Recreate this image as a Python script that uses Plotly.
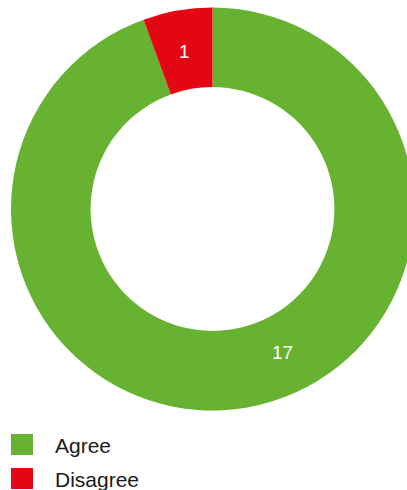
import math
import plotly.graph_objects as go

# Survey responses
categories = ["Agree", "Disagree"]
counts = [17, 1]
colors = ["#67B230", "#E30613"]

W, H = 425, 490
FONT = "Liberation Sans, Arial, Helvetica, sans-serif"

# Ring geometry in pixels
cx, cy = 212.5, 209.0
r_outer = 201.5
hole = 0.605

fig = go.Figure()
fig.add_trace(go.Pie(
    labels=categories,
    values=counts,
    marker=dict(colors=colors, line=dict(width=0)),
    hole=hole,
    sort=False,
    direction="clockwise",
    rotation=0,
    textinfo="none",
    domain=dict(x=[(cx - r_outer) / W, (cx + r_outer) / W],
                y=[1 - (cy + r_outer) / H, 1 - (cy - r_outer) / H]),
    showlegend=False,
    hoverinfo="label+value",
))

# Value labels placed on the ring (angle measured clockwise from 12 o'clock)
label_angles = [154, 350]
label_radius = 160
for value, ang in zip(counts, label_angles):
    a = math.radians(ang)
    px = cx + label_radius * math.sin(a)
    py = cy - label_radius * math.cos(a)
    fig.add_annotation(
        xref="paper", yref="paper", x=px / W, y=1 - py / H,
        text=str(value), showarrow=False, xanchor="center", yanchor="middle",
        font=dict(family=FONT, size=19, color="white"),
    )

# Custom legend: colour squares with labels underneath the ring
legend_top = 434
row_step = 34
for i, (name, col) in enumerate(zip(categories, colors)):
    y0 = legend_top + i * row_step
    fig.add_shape(
        type="rect", xref="paper", yref="paper",
        x0=11 / W, x1=33 / W, y0=1 - (y0 + 21) / H, y1=1 - y0 / H,
        fillcolor=col, line=dict(width=0),
    )
    fig.add_annotation(
        xref="paper", yref="paper", x=53 / W, y=1 - (y0 + 11) / H,
        text=name, showarrow=False, xanchor="left", yanchor="middle",
        font=dict(family=FONT, size=21, color="#1a1a1a"),
    )

fig.update_layout(
    width=W, height=H,
    margin=dict(l=0, r=0, t=0, b=0),
    paper_bgcolor="white",
    plot_bgcolor="white",
)

fig.write_html(
    "out.html",
    post_script="document.body.style.margin='0';document.body.style.overflow='hidden';",
)
